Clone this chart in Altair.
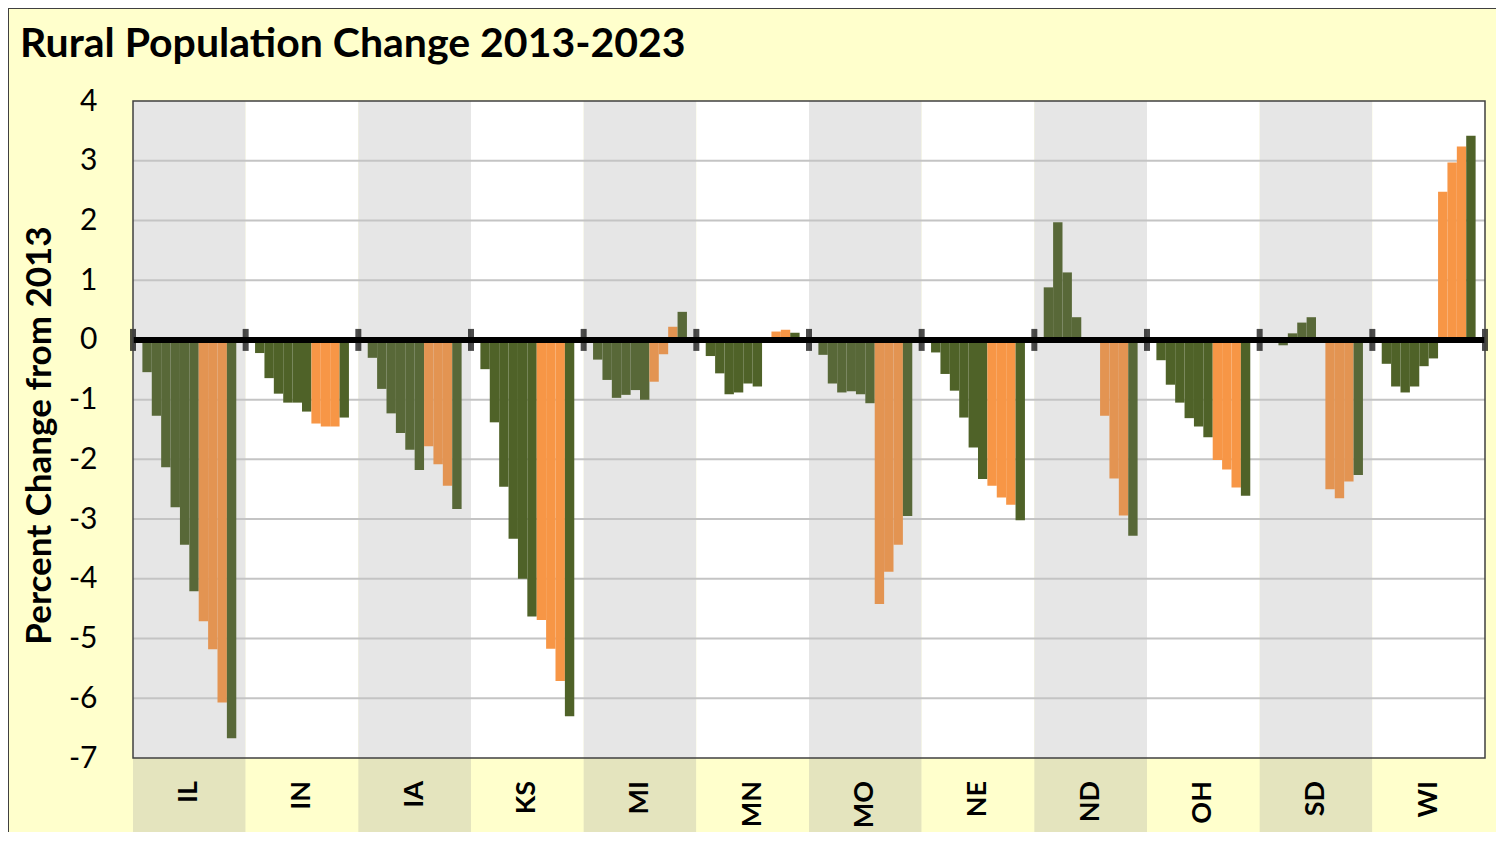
import altair as alt
import pandas as pd

states = ["IL", "IN", "IA", "KS", "MI", "MN", "MO", "NE", "ND", "OH", "SD", "WI"]
years = list(range(2014, 2024))  # 2013 is the base year (0)
IL = [-0.54, -1.27, -2.13, -2.80, -3.43, -4.21, -4.71, -5.18, -6.07, -6.67]
IN = [-0.22, -0.64, -0.90, -1.05, -1.05, -1.20, -1.40, -1.45, -1.45, -1.30]
IA = [-0.30, -0.82, -1.23, -1.56, -1.84, -2.18, -1.78, -2.08, -2.44, -2.83]
KS = [-0.49, -1.38, -2.46, -3.33, -4.00, -4.63, -4.69, -5.17, -5.71, -6.30]
MI = [-0.33, -0.67, -0.97, -0.92, -0.84, -1.00, -0.70, -0.24, 0.22, 0.47]
MN = [-0.27, -0.56, -0.91, -0.88, -0.73, -0.78, 0.04, 0.14, 0.17, 0.12]
MO = [-0.25, -0.73, -0.88, -0.86, -0.91, -1.06, -4.42, -3.88, -3.43, -2.95]
NE = [-0.21, -0.57, -0.85, -1.30, -1.80, -2.33, -2.44, -2.64, -2.76, -3.02]
ND = [0.88, 1.97, 1.13, 0.38, 0.03, -0.03, -1.27, -2.32, -2.94, -3.28]
OH = [-0.34, -0.75, -1.05, -1.31, -1.45, -1.63, -2.01, -2.17, -2.47, -2.61]
SD = [-0.03, -0.09, 0.11, 0.29, 0.38, 0.02, -2.50, -2.65, -2.37, -2.26]
WI = [-0.40, -0.78, -0.88, -0.78, -0.44, -0.31, 2.48, 2.97, 3.24, 3.42]
series = [IL, IN, IA, KS, MI, MN, MO, NE, ND, OH, SD, WI]
orange_years = [2020, 2021, 2022]
y_ticks = list(range(-7, 5))

SLOT = 12  # 11 years + 1 gap per state
W, H = 1352, 657
FONT = "Lato"
TITLE = "Percent Change from 2013"

rows = []
for i, (st, vals) in enumerate(zip(states, series)):
    for yr, v in zip(years, vals):
        p = i * SLOT + (yr - 2013)
        grp = ("o" if yr in orange_years else "g") + str(i % 2)
        rows.append({"state": st, "year": yr, "x": p, "x2": p + 1, "v": v, "z": 0, "grp": grp})
bars_df = pd.DataFrame(rows)

bands_df = pd.DataFrame({
    "state": states,
    "x": [i * SLOT for i in range(len(states))],
    "x2": [(i + 1) * SLOT for i in range(len(states))],
    "c": [i * SLOT + SLOT / 2 for i in range(len(states))],
    "par": [str(i % 2) for i in range(len(states))],
})
bounds_df = pd.DataFrame({"b": [i * SLOT for i in range(len(states) + 1)], "z": 0})
grid_df = pd.DataFrame({"g": y_ticks[1:-1]})
zero_df = pd.DataFrame({"z": [0]})

xscale = alt.Scale(domain=[0, SLOT * len(states)], nice=False, zero=False)
yscale = alt.Scale(domain=[-7, 4], nice=False, zero=False)
yaxis = alt.Axis(
    values=y_ticks, ticks=False, domain=False, grid=False,
    labelExpr="'' + datum.value",
    labelFont=FONT, labelFontSize=30, labelColor="black", labelPadding=36,
    titleFont=FONT, titleFontSize=35, titleFontWeight="bold", titleColor="black",
    titleAngle=270, titleX=-76, titleY=334, titleBaseline="bottom", titleAlign="center",
)


def Y(field):
    return alt.Y(field, type="quantitative", scale=yscale, axis=yaxis, title=TITLE)


X = lambda f: alt.X(f, type="quantitative", scale=xscale, axis=None)

bands = alt.Chart(bands_df).mark_rect().encode(
    x=X("x"), x2="x2", y=alt.value(0), y2=alt.value(H),
    color=alt.Color("par:N", scale=alt.Scale(domain=["0", "1"], range=["#E6E6E6", "#FFFFFF"]), legend=None),
)
label_cells = alt.Chart(bands_df).mark_rect().encode(
    x=X("x"), x2="x2", y=alt.value(H), y2=alt.value(H + 90),
    color=alt.Color("par:N", scale=alt.Scale(domain=["0", "1"], range=["#E4E4BE", "#FFFFCC"]), legend=None),
)
grid = alt.Chart(grid_df).mark_rule(color="#C4C4C4", strokeWidth=2).encode(
    y=Y("g"), x=alt.value(0), x2=alt.value(W),
)
bars = alt.Chart(bars_df).mark_rect().encode(
    x=X("x"), x2="x2", y=Y("v"), y2="z",
    fill=alt.Fill("grp:N", scale=alt.Scale(
        domain=["g0", "o0", "g1", "o1"],
        range=["#586838", "#E39452", "#4F6228", "#F79646"]), legend=None),
)
zero = alt.Chart(zero_df).mark_rule(color="black", strokeWidth=6).encode(
    y=Y("z"), x=alt.value(0), x2=alt.value(W),
)
ticks = alt.Chart(bounds_df).mark_tick(orient="vertical", size=22, thickness=6, color="black").encode(
    x=X("b"), y=Y("z"),
)
frame = alt.Chart(zero_df).mark_rect(fillOpacity=0, stroke="#404040", strokeWidth=1.5).encode(
    x=alt.value(0), x2=alt.value(W), y=alt.value(0), y2=alt.value(H),
)
labels = alt.Chart(bands_df).mark_text(
    angle=270, align="right", baseline="middle", font=FONT, fontSize=27,
    fontWeight="bold", color="black",
).encode(x=X("c"), y=alt.value(H + 23), text="state:N")
outer = alt.Chart(zero_df).mark_rect(fillOpacity=0, stroke="#404040", strokeWidth=2).encode(
    x=alt.value(-125), x2=alt.value(W + 200), y=alt.value(-93), y2=alt.value(H + 200),
)

chart = alt.layer(bands, label_cells, grid, bars, zero, ticks, frame, labels, outer).resolve_scale(
    color="independent"
).properties(
    width=W, height=H,
    title=alt.TitleParams(
        "Rural Population Change 2013-2023", anchor="start", frame="group", dx=-113, offset=0, dy=91,
        baseline="alphabetic", font=FONT, fontSize=41, fontWeight="bold", color="black",
    ),
    autosize=alt.AutoSizeParams(type="none"),
    padding={"left": 125, "top": 93, "right": 11, "bottom": 74},
).configure(background="#FFFFCC").configure_view(stroke=None)

chart.save("out.html", embed_options={"renderer": "svg", "actions": False})
